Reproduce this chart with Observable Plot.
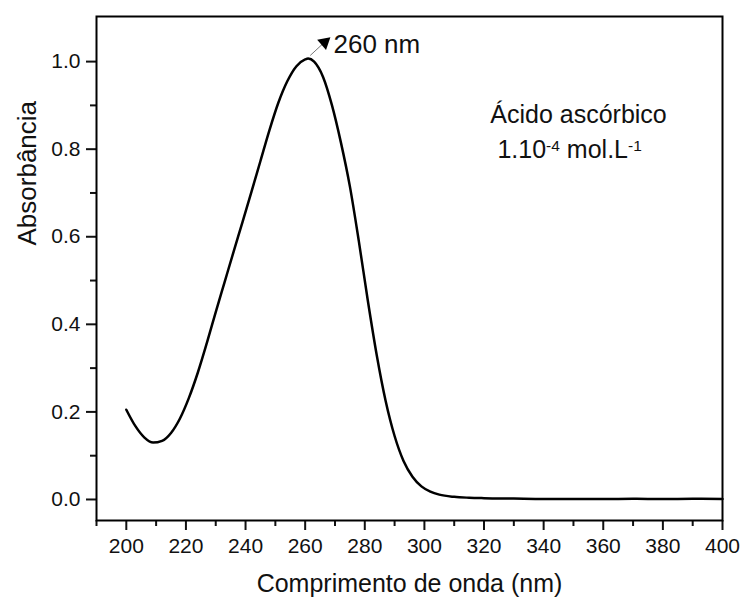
<!DOCTYPE html>
<html>
<head>
<meta charset="utf-8">
<script src="https://cdn.jsdelivr.net/npm/d3@7"></script>
<script src="https://cdn.jsdelivr.net/npm/@observablehq/plot@0.6"></script>
<style>
  html, body { margin: 0; padding: 0; background: #fff; }
  svg { font-family: "Liberation Sans", Arial, sans-serif; }
  g[aria-label="x-axis tick label"], g[aria-label="y-axis tick label"] { font-size: 21px; }
</style>
</head>
<body>
<div id="chart"></div>
<script>
// Wavelength (nm) and absorbance
const wavelength = [200, 203, 206, 209, 212, 215, 218, 221, 224, 227, 230, 233, 236, 239, 242, 245, 248, 251, 254, 257, 260, 261, 263, 266, 269, 272, 275, 278, 281, 284, 287, 290, 293, 296, 299, 302, 305, 310, 315, 320, 330, 340, 350, 360, 370, 380, 390, 400];
const absorbance = [0.205, 0.168, 0.142, 0.130, 0.134, 0.152, 0.185, 0.232, 0.290, 0.357, 0.428, 0.497, 0.566, 0.634, 0.703, 0.773, 0.843, 0.906, 0.955, 0.989, 1.005, 1.007, 1.000, 0.965, 0.900, 0.815, 0.715, 0.590, 0.455, 0.330, 0.225, 0.145, 0.088, 0.052, 0.030, 0.018, 0.011, 0.006, 0.004, 0.003, 0.002, 0.001, 0.001, 0.001, 0.0015, 0.001, 0.0015, 0.001];

const xTicks = [200, 220, 240, 260, 280, 300, 320, 340, 360, 380, 400];
const xMinorTicks = [190, 210, 230, 250, 270, 290, 310, 330, 350, 370, 390];
const yTicks = [0.0, 0.2, 0.4, 0.6, 0.8, 1.0];
const yMinorTicks = [0.1, 0.3, 0.5, 0.7, 0.9];

const xLabel = "Comprimento de onda (nm)";
const yLabel = "Absorbância";
const peakLabel = "260 nm";
const legendLine1 = "Ácido ascórbico";
const legendLine2 = "1.10-4 mol.L-1";

const spectrum = wavelength.map((w, i) => ({w, a: absorbance[i]}));

const plot = Plot.plot({
  width: 742,
  height: 597,
  marginLeft: 96,
  marginRight: 20,
  marginTop: 16,
  marginBottom: 77,
  style: {fontFamily: "Liberation Sans, Arial, sans-serif", fontSize: "21px", color: "#111", background: "#fff"},
  x: {domain: [190, 400]},
  y: {domain: [-0.048, 1.103]},
  marks: [
    Plot.axisX({ticks: xTicks, tickSize: 10, tickPadding: 8, strokeWidth: 2, fontSize: 21, label: null, tickFormat: d => String(d)}),
    Plot.axisX({ticks: xMinorTicks, tickSize: 6, strokeWidth: 2, text: null, label: null}),
    Plot.axisY({ticks: yTicks, tickSize: 10, tickPadding: 6, strokeWidth: 2, fontSize: 21, label: null, tickFormat: d3.format(".1f")}),
    Plot.axisY({ticks: yMinorTicks, tickSize: 6, strokeWidth: 2, text: null, label: null}),
    Plot.frame({stroke: "#000", strokeWidth: 2}),
    Plot.line(spectrum, {x: "w", y: "a", stroke: "#000", strokeWidth: 2.5, curve: "monotone-x"}),
    // peak annotation arrow
    Plot.link([0], {x1: 261.7, y1: 1.014, x2: 266.3, y2: 1.043, stroke: "#777", strokeWidth: 1}),
    Plot.dot([0], {x: 266.5, y: 1.044, symbol: "triangle", r: 5, fill: "#000", stroke: "none", rotate: 49}),
    Plot.text([peakLabel], {x: 269.5, y: 1.039, text: d => d, textAnchor: "start", lineAnchor: "middle", fontSize: 26, fill: "#111"}),
    // legend text
    Plot.text([legendLine1], {x: 322.1, y: 0.879, text: d => d, textAnchor: "start", lineAnchor: "middle", fontSize: 25, fill: "#111"}),
    Plot.text([legendLine2], {x: 324.5, y: 0.799, text: d => d, textAnchor: "start", lineAnchor: "middle", fontSize: 25, fill: "#111"}),
    // axis titles
    Plot.text([xLabel], {frameAnchor: "bottom", dy: 63, text: d => d, lineAnchor: "middle", fontSize: 25, fill: "#111"}),
    Plot.text([yLabel], {frameAnchor: "left", dx: -69, dy: -23, rotate: -90, text: d => d, lineAnchor: "middle", fontSize: 26, fill: "#111"})
  ]
});

// Superscripts in the concentration label
d3.select(plot).selectAll("text").each(function() {
  if (this.textContent !== legendLine2) return;
  const t = d3.select(this);
  t.text(null);
  const parts = [["1.10", false], ["-4", true], [" mol.L", false], ["-1", true]];
  let raised = false;
  for (const [s, sup] of parts) {
    const sp = t.append("tspan").text(s);
    if (sup && !raised) { sp.attr("dy", "-0.42em").attr("font-size", "0.62em"); raised = true; }
    else if (sup) { sp.attr("font-size", "0.62em"); }
    else if (!sup && raised) { sp.attr("dy", "0.26em"); raised = false; }
  }
});

document.getElementById("chart").appendChild(plot);
</script>
</body>
</html>
